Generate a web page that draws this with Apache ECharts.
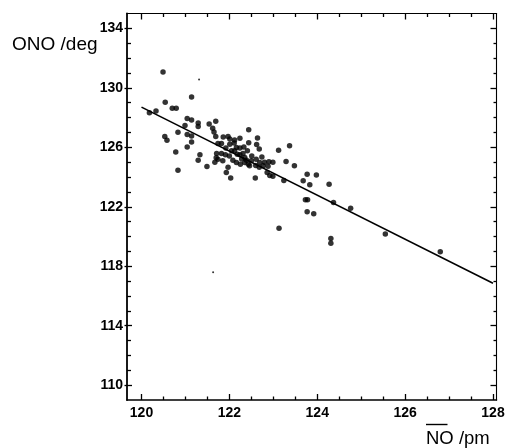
<!DOCTYPE html>
<html>
<head>
<meta charset="utf-8">
<script src="https://cdn.jsdelivr.net/npm/echarts@6/dist/echarts.min.js"></script>
<style>
html,body{margin:0;padding:0;background:#fff;}
#chart{width:508px;height:448px;}
</style>
</head>
<body>
<div id="chart"></div>
<script>
// N–O bond length (pm)
const noLength = [
120.49,121.14,120.54,120.70,120.79,120.18,120.33,121.04,121.14,121.29,
121.29,121.54,121.69,120.99,121.62,121.65,120.83,120.53,120.58,121.04,
121.14,121.14,121.04,120.78,121.33,121.29,121.49,120.83,121.69,121.86,
121.97,122.01,122.12,122.24,122.44,122.64,121.74,121.82,122.01,122.11,
122.16,122.24,122.44,122.62,122.68,122.41,121.71,121.82,121.91,122.00,
122.12,122.18,122.24,122.31,122.28,122.35,122.39,121.70,121.67,121.74,
121.85,122.08,122.16,122.25,122.35,122.43,122.50,122.46,122.61,122.69,
122.80,122.90,122.99,122.60,122.68,122.77,122.88,122.86,122.92,122.99,
121.93,121.97,122.03,122.59,123.12,123.37,123.29,123.48,123.24,123.68,
123.77,123.98,123.83,124.27,123.73,123.78,123.77,123.92,124.37,124.76,
125.55,124.31,124.31,126.80,123.13,121.92,122.05,122.33,122.51,122.74
];
// O–N–O angle (deg)
const onoAngle = [
131.07,129.38,129.03,128.62,128.62,128.32,128.44,127.93,127.83,127.63,
127.40,127.57,127.75,127.47,127.28,127.03,127.01,126.73,126.47,126.86,
126.76,126.36,126.02,125.69,125.49,125.13,124.70,124.46,126.73,126.69,
126.73,126.56,126.49,126.61,127.18,126.63,126.25,126.25,126.21,126.29,
125.98,125.96,126.31,126.18,125.89,125.76,125.59,125.58,125.49,125.42,
125.76,125.53,125.49,125.58,125.22,125.31,125.13,125.29,124.99,125.20,
125.09,125.13,124.97,124.86,124.97,124.86,125.09,124.75,125.19,124.97,
124.99,125.02,124.99,124.78,124.65,124.75,124.72,124.30,124.11,124.05,
124.30,124.65,123.93,123.93,125.80,126.10,125.04,124.75,123.77,123.75,
124.18,124.13,123.48,123.52,122.47,122.47,121.67,121.53,122.29,121.90,
120.17,119.86,119.54,118.97,120.56,125.96,125.76,126.02,125.42,125.35
];
// small specks in the original print
const speckX = [121.31, 121.63];
const speckY = [130.56, 117.60];
// regression line end points
const fitX = [120, 128];
const fitY = [128.7, 116.85];
// tick labels
const xTickLabels = [120, 122, 124, 126, 128];
const yTickLabels = [110, 114, 118, 122, 126, 130, 134];
const xMinorTicks = [120.5,121,121.5,122.5,123,123.5,124.5,125,125.5,126.5,127,127.5];
const yMinorTicks = [111,112,113,115,116,117,119,120,121,123,124,125,127,128,129,131,132,133];

const X_MIN = 119.67, X_MAX = 128.08, Y_MIN = 109, Y_MAX = 135;
const FONT = '"Liberation Sans", Arial, sans-serif';
const labelStyle = {color: '#000', fontFamily: FONT, fontWeight: 'bold', fontSize: 14};

// axis-line-only axis
function lineAxis(kind, pos, lw, labels) {
  const ax = {
    type: 'value', position: pos,
    min: kind === 'x' ? X_MIN : Y_MIN, max: kind === 'x' ? X_MAX : Y_MAX,
    splitLine: {show: false},
    axisLine: {show: true, onZero: false, lineStyle: {color: '#000', width: lw}},
    axisTick: {show: false},
    axisLabel: {show: false}
  };
  if (labels) {
    ax.axisLabel = Object.assign({show: true, customValues: labels, margin: kind === 'x' ? 6 : 4}, labelStyle);
  }
  return ax;
}
// tick-only axis
function tickAxis(kind, pos, ticks, len, inside) {
  return {
    type: 'value', position: pos,
    min: kind === 'x' ? X_MIN : Y_MIN, max: kind === 'x' ? X_MAX : Y_MAX,
    splitLine: {show: false},
    axisLine: {show: false, onZero: false},
    axisTick: {show: true, inside: inside, length: len, customValues: ticks, lineStyle: {color: '#000', width: 1.3}},
    axisLabel: {show: false}
  };
}

const chart = echarts.init(document.getElementById('chart'), null, {renderer: 'canvas'});
chart.setOption({
  backgroundColor: '#fff',
  animation: false,
  grid: {left: 127, right: 11.5, top: 13.5, bottom: 48, containLabel: false},
  xAxis: [
    lineAxis('x', 'bottom', 1.6, xTickLabels),
    tickAxis('x', 'bottom', xTickLabels, 6, true),
    tickAxis('x', 'bottom', xMinorTicks, 3.5, true),
    lineAxis('x', 'top', 1.1, null),
    tickAxis('x', 'top', xTickLabels, 6, true),
    tickAxis('x', 'top', xMinorTicks, 3.5, true)
  ],
  yAxis: [
    lineAxis('y', 'left', 1.8, yTickLabels),
    tickAxis('y', 'left', yTickLabels, 5, true),
    tickAxis('y', 'left', yTickLabels, 2.5, false),
    tickAxis('y', 'left', yMinorTicks, 4, true),
    lineAxis('y', 'right', 1.1, null),
    tickAxis('y', 'right', yTickLabels, 6, true),
    tickAxis('y', 'right', yMinorTicks, 3, true)
  ],
  series: [
    {
      type: 'scatter', xAxisIndex: 0, yAxisIndex: 0,
      data: noLength.map((x, i) => [x, onoAngle[i]]),
      symbol: 'circle', symbolSize: 5.5,
      itemStyle: {color: '#000'}
    },
    {
      type: 'scatter', xAxisIndex: 0, yAxisIndex: 0,
      data: speckX.map((x, i) => [x, speckY[i]]),
      symbol: 'circle', symbolSize: 2,
      itemStyle: {color: '#000'}
    },
    {
      type: 'line', xAxisIndex: 0, yAxisIndex: 0,
      data: fitX.map((x, i) => [x, fitY[i]]),
      showSymbol: false, symbol: 'none',
      lineStyle: {color: '#000', width: 1.6}
    }
  ],
  graphic: [
    {type: 'text', x: 12, y: 45, style: {text: 'ONO /deg', font: '19px ' + FONT, fill: '#000', textVerticalAlign: 'middle'}},
    {type: 'text', x: 426, y: 439, style: {text: 'NO /pm', font: '18.5px ' + FONT, fill: '#000', textVerticalAlign: 'middle'}},
    {type: 'line', shape: {x1: 426, y1: 424.5, x2: 447.5, y2: 424.5}, style: {stroke: '#000', lineWidth: 1.4}}
  ]
});
</script>
</body>
</html>
